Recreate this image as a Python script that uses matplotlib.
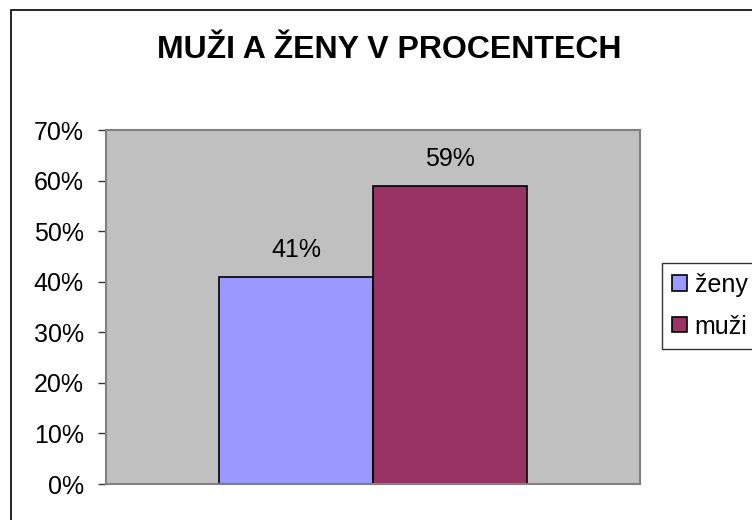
import matplotlib
matplotlib.use("Agg")
import matplotlib.pyplot as plt
from matplotlib.patches import Rectangle

plt.rcParams['font.family'] = ['Liberation Sans', 'DejaVu Sans']

title = "MUŽI A ŽENY V PROCENTECH"
series = ["ženy", "muži"]
values = [41, 59]
colors = ["#9999FF", "#993366"]
yticks = [0, 10, 20, 30, 40, 50, 60, 70]
ytick_labels = ["0%", "10%", "20%", "30%", "40%", "50%", "60%", "70%"]

W, H = 752, 520
fig = plt.figure(figsize=(W / 100, H / 100), dpi=100)

# outer chart border (cut at right/bottom like the reference)
fig.patches.append(Rectangle((11 / W, -0.1), 1.2, 1 - 10 / H + 0.1,
                             transform=fig.transFigure, fill=False,
                             edgecolor="black", linewidth=1.2, clip_on=False))

ax = fig.add_axes([106 / W, 1 - 484 / H, (640 - 106) / W, (484 - 130) / H])
ax.set_facecolor("#C0C0C0")
for s in ax.spines.values():
    s.set_color("#808080")
    s.set_linewidth(1.5)

positions = [-0.5, 0.5]
for p, v, c, name in zip(positions, values, colors, series):
    ax.bar(p, v, width=1.0, color=c, edgecolor="black", linewidth=1.2, label=name)
    ax.text(p, v + 3.9, f"{v}%", ha="center", va="baseline", fontsize=18)

half = 267 / 154
ax.set_xlim(-half, half)
ax.set_ylim(0, 70)
ax.set_yticks(yticks)
ax.set_yticklabels(ytick_labels, fontsize=18)
ax.set_xticks([])
ax.tick_params(axis="y", direction="out", length=6, width=1, color="#333333", pad=10)

fig.text(389 / W, 1 - 50 / H, title, ha="center", va="center",
         fontsize=23, fontweight="bold")

leg = ax.legend(loc="upper left", bbox_to_anchor=(662 / W, 1 - 263 / H),
                bbox_transform=fig.transFigure, fontsize=18, frameon=True,
                fancybox=False, borderaxespad=0, handlelength=0.58, handleheight=0.58,
                handletextpad=0.33, labelspacing=0.7, borderpad=0.4)
leg.get_frame().set_edgecolor("black")
leg.get_frame().set_linewidth(1.0)

fig.savefig("out.png", dpi=100)
